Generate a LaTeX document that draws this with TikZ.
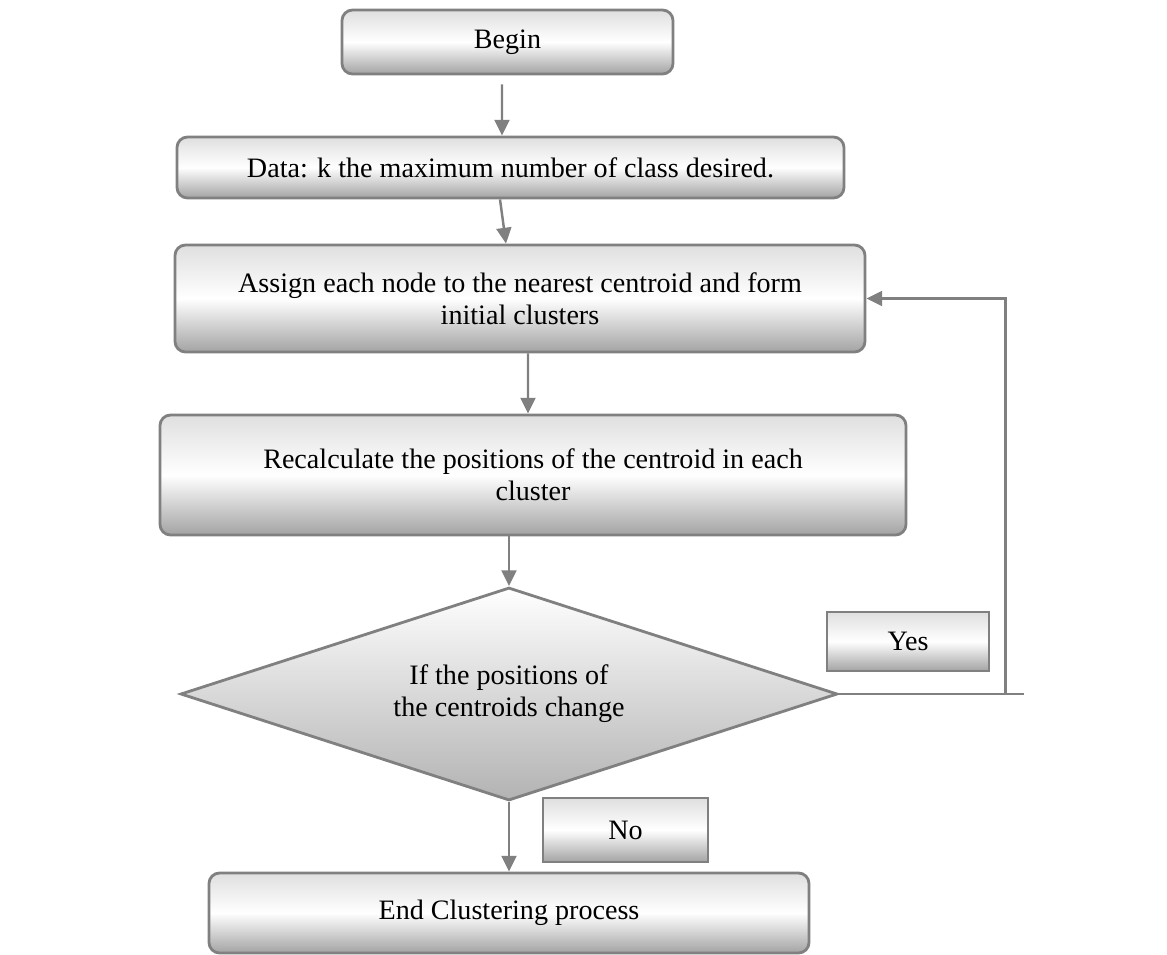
\documentclass[tikz,border=0pt]{standalone}
\usepackage{fontspec}
\setmainfont{Liberation Serif}
\usetikzlibrary{arrows.meta, shapes.geometric}

\begin{document}
\begin{tikzpicture}[
		>={Triangle[width=8.5pt,length=9pt]},
		stepbox/.style={rectangle,rounded corners=6pt,draw=gray,line width=1.6pt,
			top color=gray!25,bottom color=gray!72,middle color=white,
			align=center,inner sep=2pt,font=\fontsize{16}{18.2}\selectfont},
		labelbox/.style={stepbox,rounded corners=0pt},
		decision/.style={diamond,aspect=3.08,draw=gray,line width=1.6pt,
			top color=white,bottom color=gray!60,
			align=center,inner sep=0pt,font=\fontsize{16}{18.2}\selectfont},
		flow/.style={draw=gray,line width=1.4pt}
		]
		\useasboundingbox (0,0) rectangle (23.34,-19.1);

		\node[stepbox, minimum width=6.62cm, minimum height=1.28cm] (begin) at (10.15,-0.84) {Begin};
		\node[stepbox, minimum width=13.34cm, minimum height=1.22cm, below of = begin, yshift = -1.51cm, xshift = 0.06cm] (data)
			{Data: k the maximum number of class desired.};
		\node[stepbox, minimum width=13.8cm, minimum height=2.14cm, below of = data, yshift = -1.62cm, xshift = 0.19cm] (assign)
			{Assign each node to the nearest centroid and form\\ initial clusters};
		\node[stepbox, minimum width=14.92cm, minimum height=2.4cm, below of = assign, yshift = -2.53cm, xshift = 0.26cm] (recalc)
			{Recalculate the positions of the centroid in each\\ cluster};
		\node[decision, minimum width=13.14cm, minimum height=4.26cm, below of = recalc, yshift = -3.38cm, xshift = -0.48cm] (dec)
			{If the positions of\\ the centroids change};
		\node[stepbox, minimum width=12cm, minimum height=1.6cm, below of = dec, yshift = -3.38cm] (end)
			{End Clustering process};
		\node[labelbox, minimum width=3.24cm, minimum height=1.18cm, right of = dec, xshift = 6.98cm, yshift = 1.05cm] (yes) {Yes};
		\node[labelbox, minimum width=3.3cm, minimum height=1.28cm, above of = end, xshift = 2.33cm, yshift = 0.66cm] (no) {No};

		\coordinate (tail) at ([xshift=3.7cm]dec.east);
		\coordinate (corner) at ([xshift=3.33cm]dec.east);

		\draw[flow,->] ([xshift=-0.11cm,yshift=-0.18cm]begin.south) -- ([xshift=-0.17cm]data.north);
		\draw[flow,->] ([xshift=-0.21cm]data.south) -- ([xshift=-0.28cm]assign.north);
		\draw[flow,->] ([xshift=0.16cm]assign.south) -- ([xshift=-0.1cm]recalc.north);
		\draw[flow,->] (dec.north |- recalc.south) -- (dec.north);
		\draw[flow,->] (dec.south) -- (end.north);
		\draw[flow] (dec.east) -- (tail);
		\draw[flow,->] (corner) |- (assign.east);

	\end{tikzpicture}
\end{document}
